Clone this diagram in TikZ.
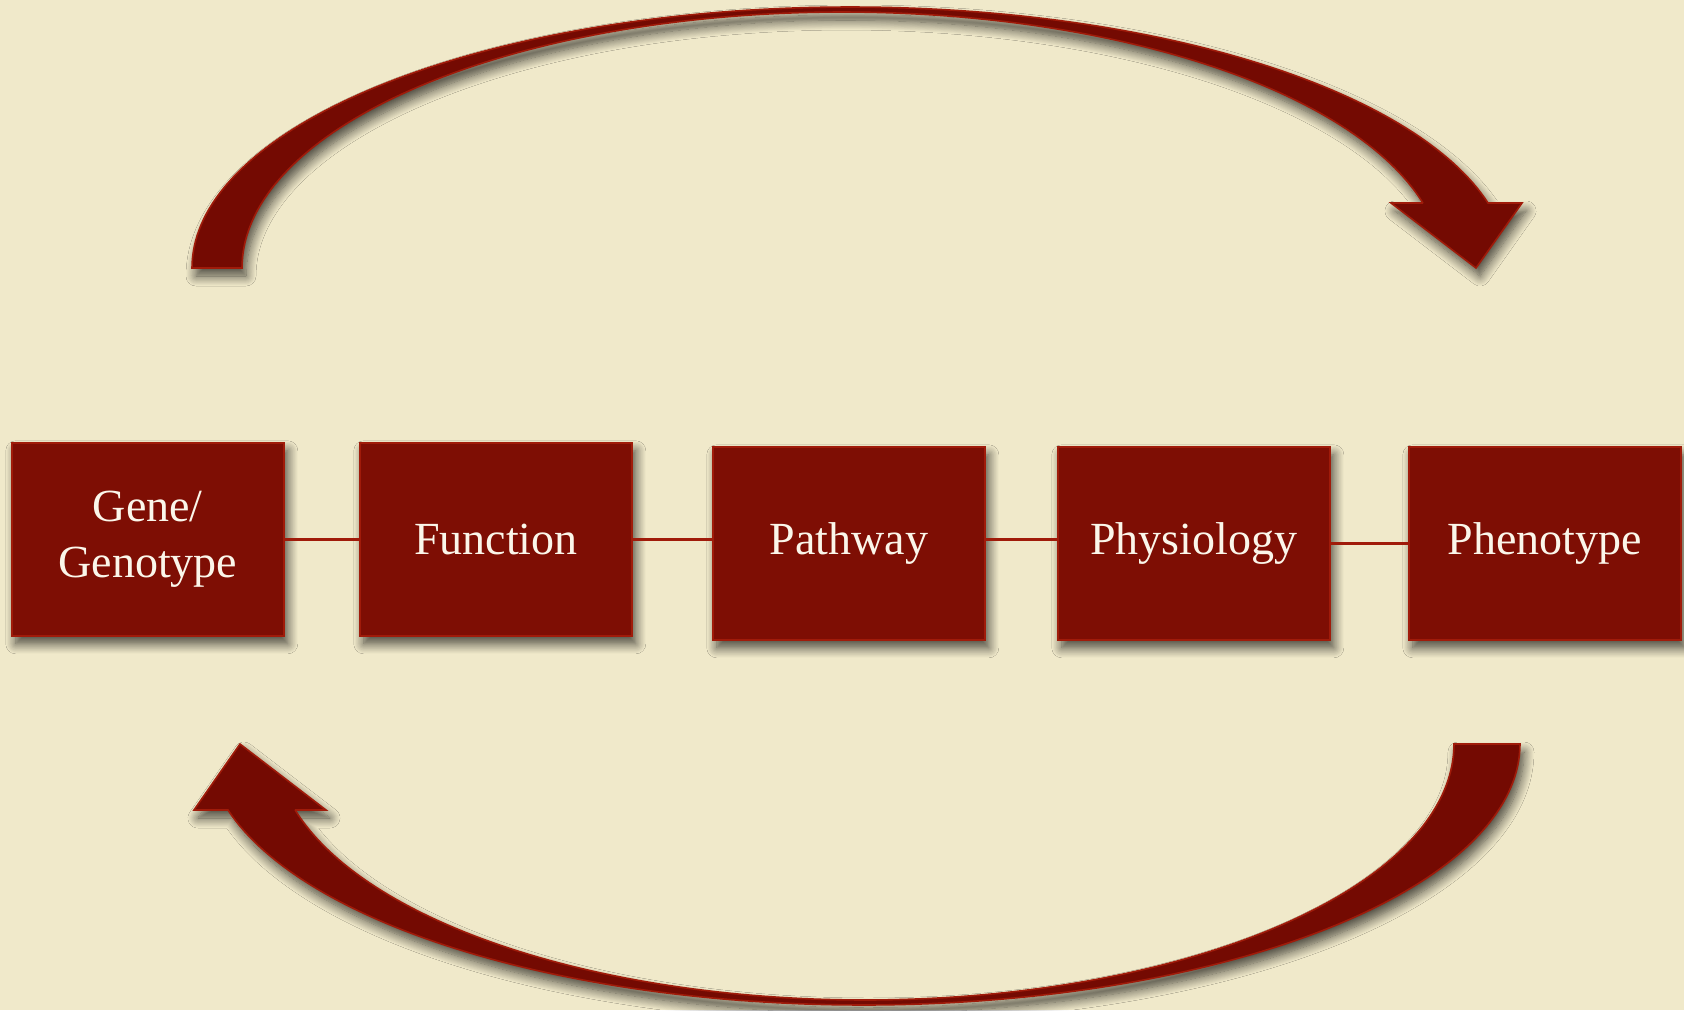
\documentclass[tikz,border=0pt]{standalone}
\usepackage{fontspec}
\setmainfont{Liberation Serif}
\usetikzlibrary{shadows.blur}

\definecolor{parchment}{HTML}{F0E9CA}
\definecolor{boxred}{HTML}{7E0E04}
\definecolor{edgered}{HTML}{A01B0A}
\definecolor{arrowred}{HTML}{740A02}
\definecolor{textcream}{HTML}{FBF6EA}

\begin{document}
\begin{tikzpicture}[x=1pt,y=-1pt,
  softshadow/.style={blur shadow={shadow xshift=4pt, shadow yshift=-8pt,
      shadow blur steps=12, shadow blur radius=10pt, shadow opacity=70}},
  stage/.style={draw=edgered, line width=1.6pt, fill=boxred, anchor=north west,
      minimum width=272pt, minimum height=193pt, inner sep=0pt,
      text=textcream, align=center, font=\fontsize{46}{56}\selectfont, softshadow},
  link/.style={draw=edgered, line width=3.5pt},
  bigarrow/.style={fill=arrowred, draw=edgered, line width=1.6pt, line join=miter, softshadow}]

% page and parchment background
\useasboundingbox (0,0) rectangle (1684,1010);
\fill[parchment] (0,0) rectangle (1684,1010);

% curved arrow over the top, from the genotype side to the phenotype side
\path[bigarrow] (192,268)
  -- plot[domain=180:14.42, samples=140] ({850.4+658.4*cos(\x)}, {268-261*sin(\x)})
  -- (1522,203) -- (1476,268) -- (1391,203) -- (1423,203)
  -- plot[domain=14.71:180, samples=140] ({842.3+600.3*cos(\x)}, {268-256*sin(\x)})
  -- cycle;

% curved arrow underneath, from the phenotype side back to the genotype side
\path[bigarrow] (1520,744)
  -- plot[domain=0:165.35, samples=140] ({863.3+656.7*cos(\x)}, {744+261*sin(\x)})
  -- (194,810) -- (240,744) -- (326,810) -- (295,810)
  -- plot[domain=165.06:0, samples=140] ({864.6+589.4*cos(\x)}, {744+256*sin(\x)})
  -- cycle;

% the five stages
\node[stage] (gene)  at (11,442)   {Gene/\\Genotype};
\node[stage] (func)  at (359,442)  {Function};
\node[stage] (path)  at (712,446)  {Pathway};
\node[stage] (phys)  at (1057,446) {Physiology};
\node[stage] (pheno) at (1408,446) {Phenotype};

% links between neighbouring stages
\draw[link] (gene.east) -- (gene.east -| func.west);
\draw[link] (func.east) -- (func.east -| path.west);
\draw[link] ([yshift=4pt]path.east) -- ([yshift=4pt]path.east -| phys.west);
\draw[link] (phys.east) -- (phys.east -| pheno.west);
\end{tikzpicture}
\end{document}
